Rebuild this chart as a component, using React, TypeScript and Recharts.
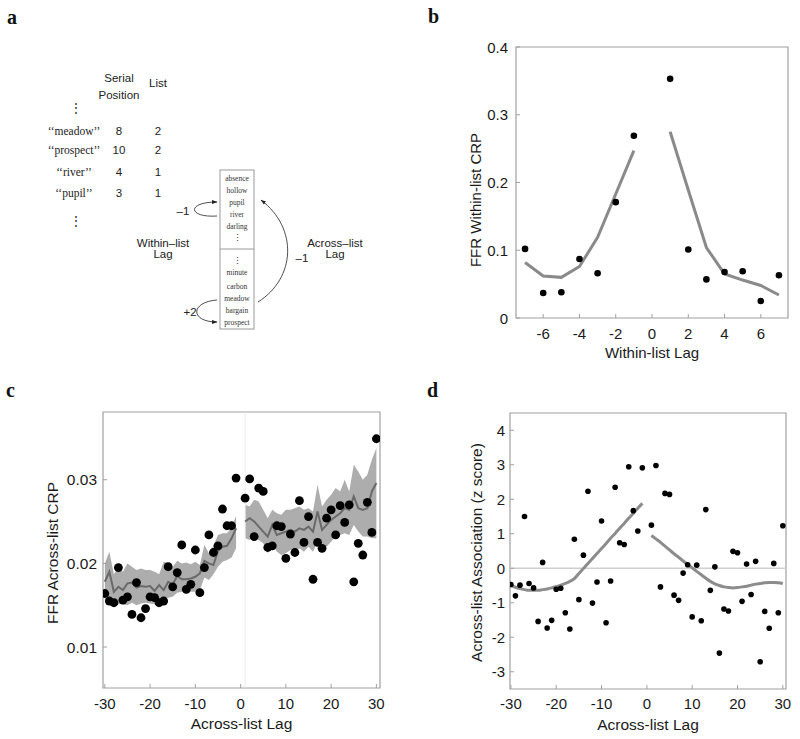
import React from 'react';
import { ComposedChart, Line, Scatter, Area, XAxis, YAxis, ReferenceArea, ReferenceLine } from 'recharts';

const SANS = '"Liberation Sans", Arial, Helvetica, sans-serif';
const SERIF = '"Liberation Serif", "Times New Roman", serif';
const TEXT = '#1a1a1a';
const BOX = '#a0a0a0';

// ---------- Panel b: within-list CRP ----------
const bLags = [-7, -6, -5, -4, -3, -2, -1, 1, 2, 3, 4, 5, 6, 7];
const bObserved = [0.102, 0.037, 0.038, 0.087, 0.066, 0.171, 0.269, 0.353, 0.101, 0.057, 0.068, 0.069, 0.025, 0.063];
const bModel = [0.082, 0.062, 0.060, 0.076, 0.119, 0.183, 0.247, 0.275, 0.189, 0.104, 0.065, 0.056, 0.048, 0.034];
const bXTicks = [-6, -4, -2, 0, 2, 4, 6];
const bYTicks = [0, 0.1, 0.2, 0.3, 0.4];

// ---------- Panel c: across-list CRP ----------
const cLags = [
  -30, -29, -28, -27, -26, -25, -24, -23, -22, -21, -20, -19, -18, -17, -16, -15, -14, -13, -12, -11, -10, -9, -8, -7, -6, -5, -4, -3, -2, -1,
  1, 2, 3, 4, 5, 6, 7, 8, 9, 10, 11, 12, 13, 14, 15, 16, 17, 18, 19, 20, 21, 22, 23, 24, 25, 26, 27, 28, 29, 30,
];
const cObserved = [
  0.0164, 0.0155, 0.0153, 0.0195, 0.0156, 0.0160, 0.0139, 0.0177, 0.0135, 0.0146, 0.0160, 0.0159, 0.0153, 0.0155, 0.0196,
  0.0172, 0.0189, 0.0222, 0.0169, 0.0175, 0.0216, 0.0165, 0.0195, 0.0234, 0.0213, 0.0221, 0.0265, 0.0245, 0.0245, 0.0302,
  0.0278, 0.0301, 0.0232, 0.0290, 0.0286, 0.0219, 0.0221, 0.0245, 0.0244, 0.0206, 0.0235, 0.0213, 0.0275, 0.0225, 0.0256,
  0.0181, 0.0225, 0.0218, 0.0254, 0.0264, 0.0234, 0.0269, 0.0249, 0.0270, 0.0178, 0.0224, 0.0210, 0.0273, 0.0237, 0.0349,
];
const cModel = [
  0.0178, 0.0190, 0.0166, 0.0172, 0.0168, 0.0176, 0.0177, 0.0171, 0.0173, 0.0172, 0.0173, 0.0167, 0.0174, 0.0168, 0.0178,
  0.0175, 0.0185, 0.0181, 0.0181, 0.0182, 0.0184, 0.0188, 0.0203, 0.0200, 0.0198, 0.0215, 0.0220, 0.0221, 0.0230, 0.0242,
  0.0250, 0.0254, 0.0250, 0.0244, 0.0238, 0.0232, 0.0246, 0.0234, 0.0236, 0.0238, 0.0240, 0.0238, 0.0242, 0.0240, 0.0244,
  0.0238, 0.0262, 0.0240, 0.0246, 0.0252, 0.0256, 0.0260, 0.0266, 0.0264, 0.0280, 0.0266, 0.0264, 0.0266, 0.0286, 0.0296,
];
const cLower = [
  0.0157, 0.0151, 0.0147, 0.0151, 0.0151, 0.0150, 0.0153, 0.0150, 0.0152, 0.0153, 0.0152, 0.0151, 0.0147, 0.0155, 0.0159,
  0.0160, 0.0165, 0.0166, 0.0166, 0.0166, 0.0166, 0.0168, 0.0183, 0.0180, 0.0187, 0.0196, 0.0202, 0.0204, 0.0207, 0.0218,
  0.0230, 0.0228, 0.0234, 0.0228, 0.0224, 0.0212, 0.0224, 0.0214, 0.0210, 0.0212, 0.0216, 0.0214, 0.0218, 0.0214, 0.0220,
  0.0214, 0.0226, 0.0218, 0.0220, 0.0226, 0.0232, 0.0234, 0.0236, 0.0234, 0.0246, 0.0238, 0.0232, 0.0232, 0.0230, 0.0230,
];
const cUpper = [
  0.0200, 0.0214, 0.0187, 0.0196, 0.0190, 0.0200, 0.0196, 0.0192, 0.0194, 0.0192, 0.0192, 0.0190, 0.0187, 0.0202, 0.0200,
  0.0196, 0.0203, 0.0200, 0.0201, 0.0199, 0.0202, 0.0198, 0.0222, 0.0212, 0.0221, 0.0234, 0.0236, 0.0236, 0.0243, 0.0257,
  0.0270, 0.0268, 0.0276, 0.0274, 0.0264, 0.0254, 0.0264, 0.0260, 0.0258, 0.0264, 0.0264, 0.0266, 0.0268, 0.0264, 0.0266,
  0.0262, 0.0294, 0.0268, 0.0276, 0.0282, 0.0290, 0.0286, 0.0300, 0.0286, 0.0318, 0.0310, 0.0300, 0.0306, 0.0324, 0.0338,
];
const cXTicks = [-30, -20, -10, 0, 10, 20, 30];
const cYTicks = [0.01, 0.02, 0.03];

// ---------- Panel d: across-list association (z score) ----------
const dLags = cLags;
const dObserved = [
  -0.47, -0.80, -0.49, 1.50, -0.44, -0.57, -1.54, 0.17, -1.73, -1.51, -0.61, -0.58, -1.29, -1.76, 0.84,
  -0.91, 0.38, 2.23, -1.01, -0.40, 1.37, -1.58, -0.37, 2.35, 0.74, 0.69, 2.94, 1.67, 1.08, 2.91,
  1.25, 2.98, -0.54, 2.17, 2.14, -0.78, -0.93, -0.14, 0.10, -1.41, 0.09, -1.52, 1.70, -0.64, 0.04,
  -2.46, -1.18, -1.24, 0.49, 0.45, -0.96, 0.12, -0.76, 0.20, -2.71, -1.25, -1.74, 0.14, -1.29, 1.23,
];
const dModel = [
  -0.50, -0.55, -0.59, -0.62, -0.64, -0.64, -0.64, -0.62, -0.60, -0.57, -0.53, -0.49, -0.44, -0.38, -0.30,
  -0.15, -0.01, 0.14, 0.28, 0.43, 0.57, 0.72, 0.87, 1.01, 1.16, 1.30, 1.45, 1.59, 1.74, 1.88,
  0.95, 0.85, 0.75, 0.64, 0.53, 0.42, 0.32, 0.21, 0.11, 0.01, -0.09, -0.19, -0.29, -0.38, -0.45,
  -0.50, -0.54, -0.56, -0.57, -0.56, -0.54, -0.52, -0.49, -0.46, -0.44, -0.42, -0.41, -0.41, -0.42, -0.44,
];
const dXTicks = [-30, -20, -10, 0, 10, 20, 30];
const dYTicks = [-3, -2, -1, 0, 1, 2, 3, 4];

// ---------- helpers ----------
const fmtPlain = (v: number) => String(Math.round(v * 1000) / 1000);

const makeYTick = (gap: number, fs: number) => (props: any) => {
  const { x, y, payload } = props;
  const edge = x + gap;
  return (
    <g>
      <line x1={edge} x2={edge + 4} y1={y} y2={y} stroke={BOX} strokeWidth={1} />
      <text x={x} y={y} textAnchor="end" dominantBaseline="central" fontSize={fs} fontFamily={SANS} fill={TEXT}>
        {fmtPlain(payload.value)}
      </text>
    </g>
  );
};

const makeXTick = (gap: number, fs: number) => (props: any) => {
  const { x, y, payload } = props;
  const edge = y - gap;
  return (
    <g>
      <line x1={x} x2={x} y1={edge} y2={edge - 4} stroke={BOX} strokeWidth={1} />
      <text x={x} y={y} textAnchor="middle" dominantBaseline="central" fontSize={fs} fontFamily={SANS} fill={TEXT}>
        {fmtPlain(payload.value)}
      </text>
    </g>
  );
};

const makeYLabel = (text: string, dx: number, dy: number, fs: number) => (props: any) => {
  const vb = props.viewBox || { x: 0, y: 0, width: 0, height: 0 };
  const cx = vb.x + dx;
  const cy = vb.y + vb.height / 2 + dy;
  return (
    <text x={cx} y={cy} transform={`rotate(-90 ${cx} ${cy})`} textAnchor="middle" dominantBaseline="central"
      fontSize={fs} fontFamily={SANS} fill={TEXT}>
      {text}
    </text>
  );
};

const makeXLabel = (text: string, dy: number, fs: number) => (props: any) => {
  const vb = props.viewBox || { x: 0, y: 0, width: 0, height: 0 };
  const cx = vb.x + vb.width / 2;
  const cy = vb.y + dy;
  return (
    <text x={cx} y={cy} textAnchor="middle" dominantBaseline="central" fontSize={fs} fontFamily={SANS} fill={TEXT}>
      {text}
    </text>
  );
};

const dot = (r: number) => (p: any) => <circle cx={p.cx} cy={p.cy} r={r} fill="#000" />;

// ---------- tables ----------
const bModelTable = bLags.map((x, i) => ({ x, y: bModel[i] }));
const bObsTable = bLags.map((x, i) => ({ x, y: bObserved[i] }));

const cModelTable = cLags.map((x, i) => ({ x, y: cModel[i], band: [cLower[i], cUpper[i]] }));
const cObsTable = cLags.map((x, i) => ({ x, y: cObserved[i] }));

const dModelTable = dLags.map((x, i) => ({ x, y: dModel[i] }));
const dObsTable = dLags.map((x, i) => ({ x, y: dObserved[i] }));

const neg = (d: { x: number }) => d.x < 0;
const pos = (d: { x: number }) => d.x > 0;

function PanelB() {
  return (
    <ComposedChart width={400} height={380} margin={{ top: 47, right: 12, bottom: 22, left: 36 }}>
      <XAxis type="number" dataKey="x" domain={[-7.5, 7.5]} ticks={bXTicks} allowDataOverflow
        axisLine={false} tickLine={false} tickSize={0} tickMargin={15} height={40}
        tick={makeXTick(15, 15)} label={makeXLabel('Within-list Lag', 34, 15)} />
      <YAxis type="number" domain={[0, 0.4]} ticks={bYTicks} allowDataOverflow
        axisLine={false} tickLine={false} tickSize={0} tickMargin={8} width={80}
        tick={makeYTick(8, 15)} label={makeYLabel('FFR Within-list CRP', 39, 17.5, 15)} />
      <ReferenceArea x1={-7.5} x2={7.5} y1={0} y2={0.4} fill="none" stroke={BOX} strokeWidth={1.2} ifOverflow="visible" />
      <Line data={bModelTable.filter(neg)} dataKey="y" type="linear" stroke="#8a8a8a" strokeWidth={3} dot={false} isAnimationActive={false} />
      <Line data={bModelTable.filter(pos)} dataKey="y" type="linear" stroke="#8a8a8a" strokeWidth={3} dot={false} isAnimationActive={false} />
      <Scatter data={bObsTable} dataKey="y" shape={dot(3.3)} isAnimationActive={false} />
    </ComposedChart>
  );
}

function PanelC() {
  return (
    <ComposedChart width={400} height={359} margin={{ top: 32, right: 20, bottom: 11, left: 23 }}>
      <XAxis type="number" dataKey="x" domain={[-30.4, 30.8]} ticks={cXTicks} allowDataOverflow
        axisLine={false} tickLine={false} tickSize={0} tickMargin={15} height={40}
        tick={makeXTick(15, 15)} label={makeXLabel('Across-list Lag', 35, 15.5)} />
      <YAxis type="number" domain={[0.0051, 0.0381]} ticks={cYTicks} allowDataOverflow
        axisLine={false} tickLine={false} tickSize={0} tickMargin={6} width={80}
        tick={makeYTick(6, 15.5)} label={makeYLabel('FFR Across-list CRP', 29, 3, 15.5)} />
      <ReferenceArea x1={-30.4} x2={30.8} y1={0.0051} y2={0.0381} fill="none" stroke={BOX} strokeWidth={1.2} ifOverflow="visible" />
      <ReferenceLine x={1} stroke="#ececec" strokeWidth={1} />
      <Area data={cModelTable.filter(neg)} dataKey="band" type="linear" stroke="none" fill="#adadad" fillOpacity={1} isAnimationActive={false} />
      <Area data={cModelTable.filter(pos)} dataKey="band" type="linear" stroke="none" fill="#adadad" fillOpacity={1} isAnimationActive={false} />
      <Line data={cModelTable.filter(neg)} dataKey="y" type="linear" stroke="#6a6a6a" strokeWidth={2} dot={false} isAnimationActive={false} />
      <Line data={cModelTable.filter(pos)} dataKey="y" type="linear" stroke="#6a6a6a" strokeWidth={2} dot={false} isAnimationActive={false} />
      <Scatter data={cObsTable} dataKey="y" shape={dot(4.4)} isAnimationActive={false} />
    </ComposedChart>
  );
}

function PanelD() {
  return (
    <ComposedChart width={400} height={359} margin={{ top: 33, right: 14, bottom: 10, left: 30 }}>
      <XAxis type="number" dataKey="x" domain={[-30.2, 30.7]} ticks={dXTicks} allowDataOverflow
        axisLine={false} tickLine={false} tickSize={0} tickMargin={14} height={40}
        tick={makeXTick(14, 15)} label={makeXLabel('Across-list Lag', 35, 15.5)} />
      <YAxis type="number" domain={[-3.5, 4.5]} ticks={dYTicks} allowDataOverflow
        axisLine={false} tickLine={false} tickSize={0} tickMargin={5} width={80}
        tick={makeYTick(5, 15)} label={makeYLabel('Across-list Association (z score)', 46, 1.5, 15.5)} />
      <ReferenceArea x1={-30.2} x2={30.7} y1={-3.5} y2={4.5} fill="none" stroke={BOX} strokeWidth={1.2} ifOverflow="visible" />
      <ReferenceLine y={0} stroke="#cfcfcf" strokeWidth={1.5} />
      <Line data={dModelTable.filter(neg)} dataKey="y" type="monotone" stroke="#8c8c8c" strokeWidth={3} dot={false} isAnimationActive={false} />
      <Line data={dModelTable.filter(pos)} dataKey="y" type="monotone" stroke="#8c8c8c" strokeWidth={3} dot={false} isAnimationActive={false} />
      <Scatter data={dObsTable} dataKey="y" shape={dot(2.8)} isAnimationActive={false} />
    </ComposedChart>
  );
}

// ---------- Panel a: schematic ----------
const aRows = [
  { word: '‘‘meadow’’', pos: '8', list: '2' },
  { word: '‘‘prospect’’', pos: '10', list: '2' },
  { word: '‘‘river’’', pos: '4', list: '1' },
  { word: '‘‘pupil’’', pos: '3', list: '1' },
];
const aList1 = ['absence', 'hollow', 'pupil', 'river', 'darling'];
const aList2 = ['minute', 'carbon', 'meadow', 'bargain', 'prospect'];

function Overlay() {
  const rowY = [135, 154, 176, 197];
  const l1Y = [180.5, 192.5, 204.5, 216.5, 228.5];
  const l2Y = [274.5, 288.5, 300.5, 312.5, 324.5];
  return (
    <svg width={800} height={739} style={{ position: 'absolute', left: 0, top: 0, pointerEvents: 'none' }}>
      <defs>
        <marker id="arrowHead" viewBox="0 0 10 10" refX="9" refY="5" markerWidth="7" markerHeight="7" orient="auto">
          <path d="M0,1.5 L10,5 L0,8.5 z" fill="#222" />
        </marker>
      </defs>
      {/* panel letters */}
      <text x={7} y={24} fontFamily={SERIF} fontWeight="bold" fontSize={20} fill="#111">a</text>
      <text x={428} y={23} fontFamily={SERIF} fontWeight="bold" fontSize={20} fill="#111">b</text>
      <text x={6} y={397} fontFamily={SERIF} fontWeight="bold" fontSize={20} fill="#111">c</text>
      <text x={427} y={397} fontFamily={SERIF} fontWeight="bold" fontSize={20} fill="#111">d</text>

      {/* table */}
      <g fontFamily={SANS} fontSize={11.5} fill="#222" textAnchor="middle">
        <text x={119} y={82}>Serial</text>
        <text x={119} y={99}>Position</text>
        <text x={158} y={87}>List</text>
        {aRows.map((r, i) => (
          <g key={i}>
            <text x={119} y={rowY[i]}>{r.pos}</text>
            <text x={158} y={rowY[i]}>{r.list}</text>
          </g>
        ))}
      </g>
      <g fontFamily={SERIF} fontSize={11.5} fill="#222" textAnchor="middle">
        {aRows.map((r, i) => (
          <text key={i} x={74} y={rowY[i]}>{r.word}</text>
        ))}
        <text x={76} y={112} fontFamily={SANS} fontSize={12}>⋮</text>
        <text x={76} y={225} fontFamily={SANS} fontSize={12}>⋮</text>
      </g>

      {/* list box */}
      <rect x={220} y={170} width={34} height={159} fill="#fff" stroke="#999" strokeWidth={1} />
      <line x1={220} x2={254} y1={249} y2={249} stroke="#999" strokeWidth={1} />
      <g fontFamily={SERIF} fontSize={7.5} fill="#333" textAnchor="middle">
        {aList1.map((w, i) => (
          <text key={w} x={237} y={l1Y[i]}>{w}</text>
        ))}
        {aList2.map((w, i) => (
          <text key={w} x={237} y={l2Y[i]}>{w}</text>
        ))}
        <text x={237} y={241} fontFamily={SANS} fontSize={9}>⋮</text>
        <text x={237} y={264} fontFamily={SANS} fontSize={9}>⋮</text>
      </g>

      {/* arrows */}
      <g fill="none" stroke="#222" strokeWidth={0.8}>
        <path d="M 217 216 C 188 218, 186 202, 217 202" markerEnd="url(#arrowHead)" />
        <path d="M 217 300 C 190 302, 190 322, 217 322" markerEnd="url(#arrowHead)" />
        <path d="M 258 302 C 296 278, 298 228, 261 200" markerEnd="url(#arrowHead)" />
      </g>
      <g fontFamily={SANS} fontSize={11.5} fill="#222" textAnchor="middle">
        <text x={183} y={215}>–1</text>
        <text x={190} y={316}>+2</text>
        <text x={302} y={262}>–1</text>
        <text x={163} y={247}>Within–list</text>
        <text x={163} y={258}>Lag</text>
        <text x={335} y={247}>Across–list</text>
        <text x={335} y={258}>Lag</text>
      </g>
    </svg>
  );
}

export default function App() {
  return (
    <div style={{ position: 'absolute', left: 0, top: 0, width: 800, height: 739, background: '#fff', overflow: 'hidden' }}>
      <div style={{ position: 'absolute', left: 400, top: 0 }}>
        <PanelB />
      </div>
      <div style={{ position: 'absolute', left: 0, top: 380 }}>
        <PanelC />
      </div>
      <div style={{ position: 'absolute', left: 400, top: 380 }}>
        <PanelD />
      </div>
      <Overlay />
    </div>
  );
}
